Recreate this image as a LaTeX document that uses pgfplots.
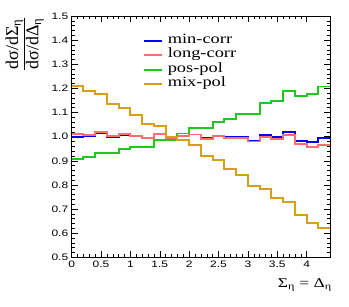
\documentclass[border=0pt]{standalone}
\usepackage{fontspec}
\usepackage{pgfplots}
\usepackage{pgfplotstable}
\pgfplotsset{compat=1.18}
\setmainfont{Liberation Serif}
\newfontfamily\tickfont[FakeStretch=1.28]{Liberation Sans}
\newfontfamily\legfont[FakeStretch=1.3]{Liberation Serif}
\newfontfamily\ylfont{Liberation Serif}
\definecolor{cblue}{RGB}{0,0,255}
\definecolor{cred}{RGB}{255,110,110}
\definecolor{cgreen}{RGB}{30,200,30}
\definecolor{corange}{RGB}{215,160,20}
\pgfplotstableread{
x mincorr longcorr pospol mixpol
0.0 1.000 1.011 0.907 1.210
0.2 1.002 1.007 0.916 1.188
0.4 1.014 1.018 0.934 1.177
0.6 1.000 1.003 0.934 1.135
0.8 1.006 1.010 0.947 1.120
1.0 1.003 1.004 0.958 1.090
1.2 0.993 0.994 0.958 1.053
1.4 1.010 1.011 0.987 1.044
1.6 0.995 0.993 0.986 0.998
1.8 1.004 1.003 1.013 0.986
2.0 1.009 1.009 1.037 0.966
2.2 0.993 0.992 1.037 0.920
2.4 1.001 1.001 1.060 0.902
2.6 0.998 0.996 1.072 0.866
2.8 0.998 0.996 1.093 0.842
3.0 0.983 0.980 1.093 0.797
3.2 1.005 0.998 1.138 0.784
3.4 0.997 0.990 1.148 0.747
3.6 1.018 1.007 1.190 0.730
3.8 0.983 0.969 1.167 0.677
4.0 0.977 0.957 1.175 0.642
4.2 0.996 0.964 1.208 0.622
4.4 0.996 0.964 1.208 0.622
}\data
\begin{document}
\begin{tikzpicture}
\useasboundingbox (-71.7bp,-49.7bp) rectangle (277.3bp,257.3bp);
\begin{axis}[
  scale only axis, width=258.5bp, height=241.3bp,
  xmin=0, xmax=4.4, ymin=0.5, ymax=1.5,
  xtick={0,0.5,1,1.5,2,2.5,3,3.5,4},
  xticklabels={0,0.5,1,1.5,2,2.5,3,3.5,4},
  ytick={0.5,0.6,0.7,0.8,0.9,1.0,1.1,1.2,1.3,1.4,1.5},
  yticklabels={0.5,0.6,0.7,0.8,0.9,1.0,1.1,1.2,1.3,1.4,1.5},
  minor x tick num=4, minor y tick num=4,
  tick align=inside, xtick pos=both, ytick pos=both,
  major tick length=6bp, minor tick length=3bp,
  tick style={black, line width=0.5bp},
  axis line style={line width=0.6bp},
  ticklabel style={font=\tickfont\fontsize{9.4}{10}\selectfont},
  every axis y label/.style={at={(axis description cs:-0.182,0.884)}, rotate=90, anchor=center},
  ylabel={$\displaystyle\frac{\hbox{\ylfont\fontsize{18}{18}\selectfont dσ/dΣ\textsubscript{η}}}{\hbox{\ylfont\fontsize{18}{18}\selectfont dσ/dΔ\textsubscript{η}}}$},
  every axis x label/.style={at={(axis description cs:1.007,-0.0858)}, anchor=north east, inner sep=0pt, font=\legfont\fontsize{13.5}{14}\selectfont},
  xlabel={Σ\textsubscript{η} = Δ\textsubscript{η}},
  legend style={draw=none, fill=none, at={(axis description cs:0.277,0.928)}, anchor=north west,
    inner sep=0pt, row sep=0pt, column sep=4.7bp,
    font=\legfont\fontsize{14.2}{14.3}\selectfont,
    nodes={inner sep=0pt, text height=10bp, text depth=4.3bp, anchor=base west}},
  legend image code/.code={\draw[#1, line width=1.9bp] (0bp,2.6bp) -- (17.7bp,2.6bp);},
]
\addplot[const plot, color=cblue, line width=1.9bp] table[x=x,y=mincorr]{\data};
\addlegendentry{min-corr}
\addplot[const plot, color=cred, line width=1.9bp] table[x=x,y=longcorr]{\data};
\addlegendentry{long-corr}
\addplot[const plot, color=cgreen, line width=1.9bp] table[x=x,y=pospol]{\data};
\addlegendentry{pos-pol}
\addplot[const plot, color=corange, line width=1.9bp] table[x=x,y=mixpol]{\data};
\addlegendentry{mix-pol}
\end{axis}
\end{tikzpicture}
\end{document}
